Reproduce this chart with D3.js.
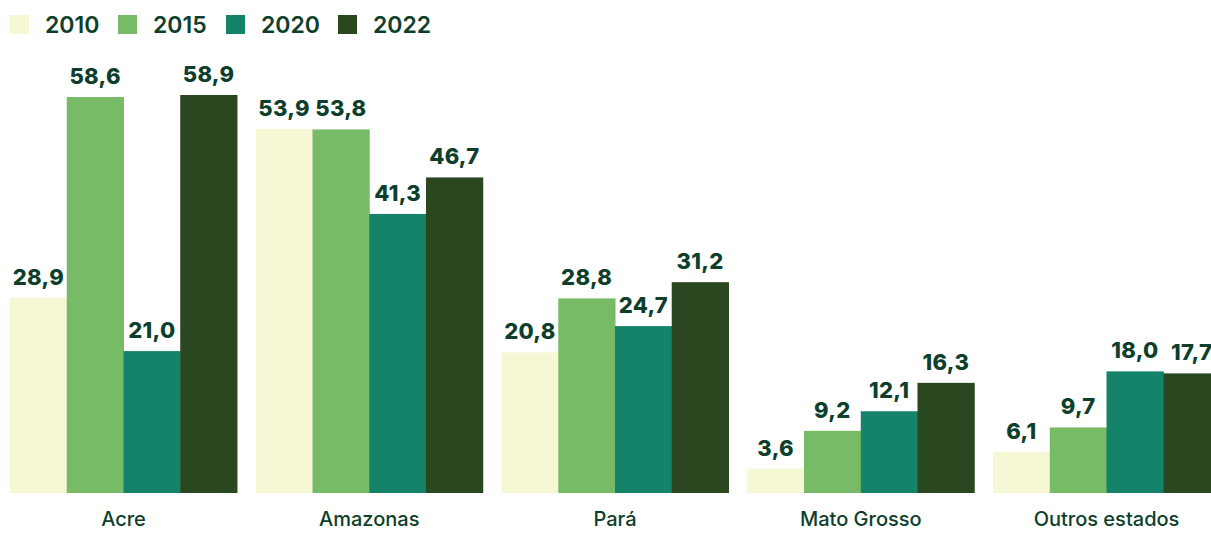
<!DOCTYPE html>
<html>
<head>
<meta charset="utf-8">
<script src="https://cdn.jsdelivr.net/npm/d3@7"></script>
<style>
	body { margin: 0; background: #fff; }
	svg { display: block; font-family: Inter, 'Noto Sans', sans-serif; }
</style>
</head>
<body>
<div id="chart"></div>
<script>
	'use strict';

	// dados
	var estados = ['Acre', 'Amazonas', 'Pará', 'Mato Grosso', 'Outros estados'];
	var anos = ['2010', '2015', '2020', '2022'];
	var v2010 = [28.9, 53.9, 20.8, 3.6, 6.1];
	var v2015 = [58.6, 53.8, 28.8, 9.2, 9.7];
	var v2020 = [21.0, 41.3, 24.7, 12.1, 18.0];
	var v2022 = [58.9, 46.7, 31.2, 16.3, 17.7];
	var cores = ['#f6f7d4', '#78bb66', '#15836a', '#2a4720'];

	var width = 1211, height = 533;
	var base = 493, textColor = '#0d3f2c';

	var series = [v2010, v2015, v2020, v2022];

	var svg = d3.select('#chart').append('svg')
						.attr('width', width)
						.attr('height', height);

	var x0 = d3.scaleBand()
						 .domain(estados)
						 .range([10, 1220])
						 .paddingInner(0.0765)
						 .paddingOuter(0);

	var x1 = d3.scaleBand()
						 .domain(anos)
						 .range([0, x0.bandwidth()]);

	var y = d3.scaleLinear()
						.domain([0, 58.9])
						.range([base, 95]);

	var fmt = function (v) { return v.toFixed(1).replace('.', ','); };

	var groups = svg.selectAll('g.grupo')
									.data(estados)
									.enter().append('g')
									.attr('class', 'grupo')
									.attr('transform', function (d) {
										return 'translate(' + x0(d) + ',0)';
									});

	groups.selectAll('rect')
		.data(function (d, i) {
			return anos.map(function (a, j) {
				return { ano: a, valor: series[j][i], cor: cores[j] };
			});
		})
		.enter().append('rect')
		.attr('x', function (d) { return x1(d.ano); })
		.attr('y', function (d) { return y(d.valor); })
		.attr('width', x1.bandwidth() + 0.5)
		.attr('height', function (d) { return base - y(d.valor); })
		.attr('fill', function (d) { return d.cor; });

	groups.selectAll('text.valor')
		.data(function (d, i) {
			return anos.map(function (a, j) {
				return { ano: a, valor: series[j][i] };
			});
		})
		.enter().append('text')
		.attr('class', 'valor')
		.attr('x', function (d) { return x1(d.ano) + x1.bandwidth() / 2; })
		.attr('y', function (d) { return y(d.valor) - 13; })
		.attr('text-anchor', 'middle')
		.attr('fill', textColor)
		.style('font-size', '22px')
		.style('font-weight', 800)
		.style('letter-spacing', '0.3px')
		.text(function (d) { return fmt(d.valor); });

	// nomes dos estados
	svg.selectAll('text.cat')
		.data(estados)
		.enter().append('text')
		.attr('class', 'cat')
		.attr('x', function (d) { return x0(d) + x0.bandwidth() / 2; })
		.attr('y', 526)
		.attr('text-anchor', 'middle')
		.attr('fill', textColor)
		.style('font-size', '20px')
		.style('font-weight', 500)
		.text(function (d) { return d; });

	// legenda
	var legX = [10, 118, 226, 338];
	var leg = svg.selectAll('g.leg')
							 .data(anos)
							 .enter().append('g')
							 .attr('class', 'leg')
							 .attr('transform', function (d, i) {
								 return 'translate(' + legX[i] + ',15)';
							 });

	leg.append('rect')
		.attr('width', 19)
		.attr('height', 19)
		.attr('fill', function (d, i) { return cores[i]; });

	leg.append('text')
		.attr('x', 35)
		.attr('y', 18)
		.attr('fill', textColor)
		.style('font-size', '23px')
		.style('font-weight', 600)
		.text(function (d) { return d; });
</script>
</body>
</html>
